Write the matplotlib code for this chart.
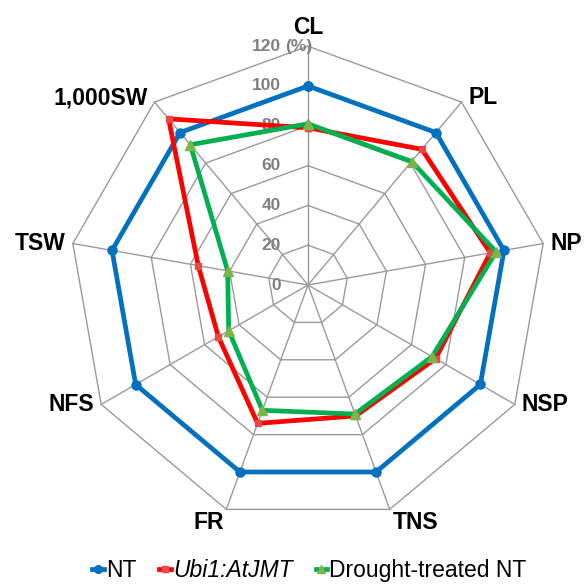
import numpy as np
import matplotlib
matplotlib.use('Agg')
from matplotlib import pyplot as plt
from matplotlib.lines import Line2D

## data (% of NT)
categories = ['CL', 'PL', 'NP', 'NSP', 'TNS', 'FR', 'NFS', 'TSW', '1,000SW']
nt = [100, 100, 100, 100, 100, 100, 100, 100, 100]
ubi1 = [79, 89, 93, 74, 70, 74, 52, 56, 109]
drought = [81, 81, 96, 72, 69, 67, 46, 41, 92]
rings = [20, 40, 60, 80, 100, 120]
tick_values = [0, 20, 40, 60, 80, 100, 120]

plt.rcParams['font.family'] = ['Liberation Sans', 'DejaVu Sans']

n = len(categories)
theta = np.arange(n) * 2 * np.pi / n  # clockwise from top

def to_xy(values):
    v = np.asarray(values, dtype=float)
    v = np.append(v, v[0])
    t = np.append(theta, theta[0])
    return v * np.sin(t), v * np.cos(t)

fig = plt.figure(figsize=(5.84, 5.85), dpi=100)
ax = fig.add_axes([0, 0, 1, 1])
scale = 1.99  # px per unit
cx, cy = 308, 285
ax.set_xlim(-cx / scale, (584 - cx) / scale)
ax.set_ylim(-(585 - cy) / scale, cy / scale)
ax.axis('off')

grid_col = '#9a9a9a'
for r in rings:
    gx, gy = to_xy([r] * n)
    ax.plot(gx, gy, color=grid_col, lw=1.0, zorder=1)
for t in theta:
    ax.plot([0, 120 * np.sin(t)], [0, 120 * np.cos(t)], color=grid_col, lw=1.0, zorder=1)

## value labels along the CL axis
for v in tick_values:
    ax.text(-13.8, v, str(v), ha='right', va='center', fontsize=12.5,
            fontweight='bold', color='#808080', zorder=2)
ax.text(-11.5, 120, '(%)', ha='left', va='center', fontsize=12.5,
        fontweight='bold', color='#808080', zorder=2)

## category labels
for lab, t in zip(categories, theta):
    s, c = np.sin(t), np.cos(t)
    x, y = 120 * s, 120 * c
    if abs(s) < 0.1:
        ha, va, off = 'center', 'bottom', (0, 5)
    elif s > 0:
        ha, va, off = 'left', 'center', (5, 0)
    else:
        ha, va, off = 'right', 'center', (-5, 0)
    if c < -0.8:
        va = 'top'
        off = (off[0] * 0.4, -1)
    elif 0.5 < c < 0.9:
        off = (off[0], 3)
    ax.annotate(lab, (x, y), xytext=off, textcoords='offset points', ha=ha, va=va,
                fontsize=16.5, fontweight='bold', color='black')

## series
series = [
    (nt, '#0070c0', 'o', '#0070c0', 6.5, 'NT'),
    (ubi1, '#ff0000', 's', '#e84848', 5, 'Ubi1:AtJMT'),
    (drought, '#00b050', '^', '#7ab648', 7, 'Drought-treated NT'),
]
handles = []
for vals, col, mk, mcol, ms, lab in series:
    x, y = to_xy(vals)
    ax.plot(x, y, color=col, lw=3.4, marker=mk, ms=ms, mfc=mcol, mec=mcol, zorder=3)
    handles.append(Line2D([], [], color=col, lw=3.4, marker=mk, ms=ms - 1, mfc=mcol, mec=mcol))

labels = [s[5] for s in series]
leg = fig.legend(handles, labels, loc='center', bbox_to_anchor=(0.53, 0.025), ncol=3,
                 frameon=False, fontsize=16.5, handlelength=0.5, handletextpad=0.1,
                 columnspacing=1.0)
leg.get_texts()[1].set_fontstyle('italic')

fig.savefig('out.png', dpi=100)
